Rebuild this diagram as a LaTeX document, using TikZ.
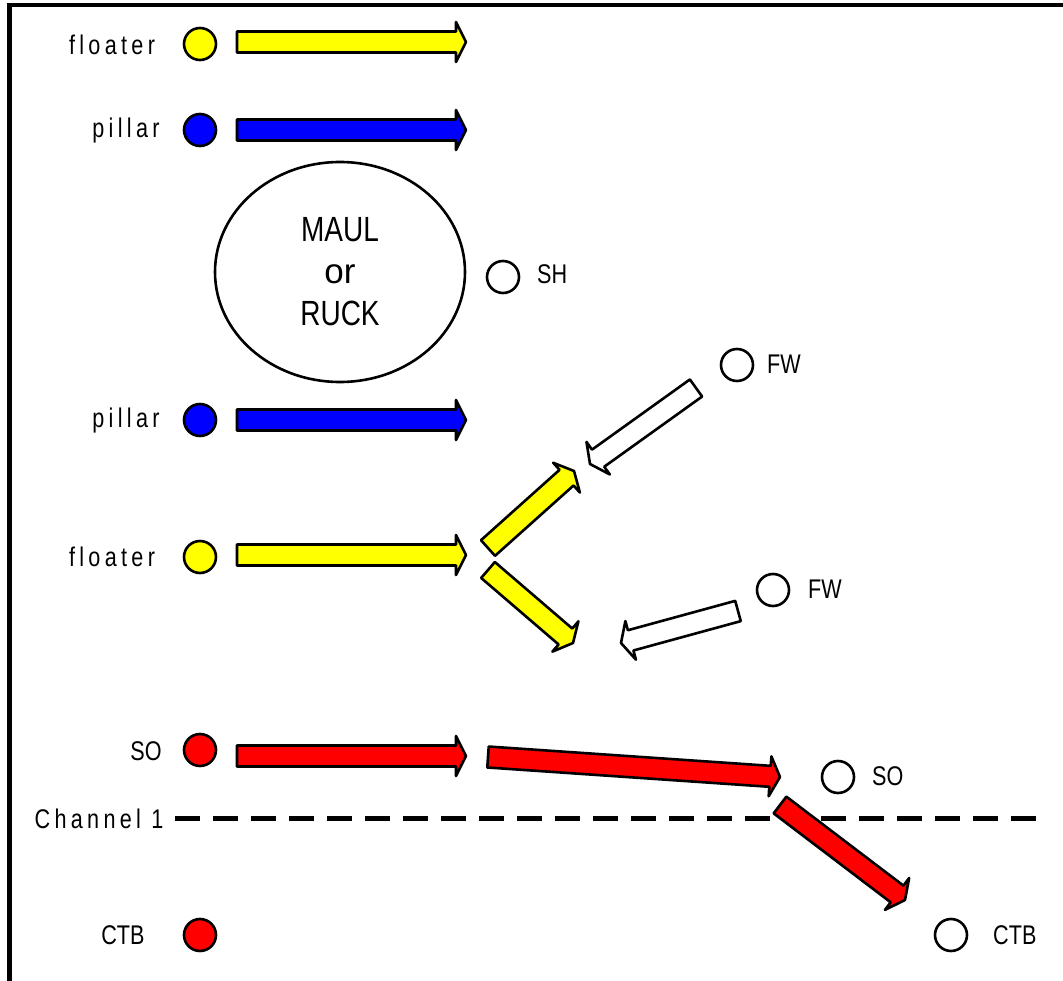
\documentclass[tikz,border=0pt]{standalone}
\usepackage{fontspec}
\setmainfont{Liberation Sans}[FakeStretch=0.8]
\newfontfamily\spacedfont{Liberation Sans}[FakeStretch=0.8,LetterSpace=16]
\newfontfamily\widefont{Liberation Sans}
\usetikzlibrary{calc,shapes.geometric}
\definecolor{pyellow}{RGB}{255,255,0}
\definecolor{pblue}{RGB}{0,0,255}
\definecolor{pred}{RGB}{255,0,0}
\newcommand{\blockarrow}[3]{%
  \coordinate (ba-t) at (#2);
  \coordinate (ba-h) at (#3);
  \coordinate (ba-b) at ($(ba-h)!10pt!(ba-t)$);
  \filldraw[barrowstyle,#1] ($(ba-t)!10.5pt!90:(ba-h)$) -- ($(ba-b)!10.5pt!90:(ba-h)$) -- ($(ba-b)!20pt!90:(ba-h)$) -- (ba-h) -- ($(ba-b)!20pt!-90:(ba-h)$) -- ($(ba-b)!10.5pt!-90:(ba-h)$) -- ($(ba-t)!10.5pt!-90:(ba-h)$) -- cycle;
}
\begin{document}
\begin{tikzpicture}[x=1pt,y=-1pt,
  barrowstyle/.style={draw=black,line width=2.6pt,line join=round},
  player/.style={circle,draw=black,line width=2.6pt,minimum size=32pt,inner sep=0pt},
  lbl/.style={font=\fontsize{27}{30}\selectfont,inner sep=0pt,anchor=base},
  slbl/.style={font=\fontsize{27}{30}\selectfont\spacedfont,inner sep=0pt,anchor=base},
  rlbl/.style={font=\fontsize{27}{30}\selectfont,inner sep=0pt,anchor=base west},
  frame/.style={line width=4.5pt}]
\useasboundingbox (0,0) rectangle (1063,981);
\fill[white] (0,0) rectangle (1063,981);
% frame
\coordinate (fr1) at (1063,5);
\coordinate (fr2) at (9.5,5);
\coordinate (fr3) at (9.5,981);
\draw[frame] (fr1) -- (fr2) -- (fr3);

% left players
\node[player,fill=pyellow] (floaterA) at (200,44) {};
\node[slbl] (floaterAl) at (112,55) {floater};
\node[player,fill=pblue] (pillarA) at (200,130) {};
\node[slbl] (pillarAl) at (126,138) {pillar};
\node[player,fill=pblue] (pillarB) at (200,420) {};
\node[slbl] (pillarBl) at (126,428) {pillar};
\node[player,fill=pyellow] (floaterB) at (200,557) {};
\node[slbl] (floaterBl) at (112,566) {floater};
\node[player,fill=pred] (soA) at (200,750) {};
\node[lbl] (soAl) at (146,760) {SO};
\node[player,fill=pred] (ctbA) at (200,935) {};
\node[lbl] (ctbAl) at (123,944) {CTB};

% maul
\node[ellipse,draw=black,line width=2.6pt,minimum width=250pt,minimum height=220pt,
  align=center,font=\fontsize{35}{42}\selectfont] (maul) at (340,272) {MAUL\\{\widefont or}\\RUCK};

% right players
\node[player,fill=white] (sh) at (503,277) {};
\node[rlbl] (shl) at (537,284) {SH};
\node[player,fill=white] (fwA) at (737,365) {};
\node[rlbl] (fwAl) at (767,374) {FW};
\node[player,fill=white] (fwB) at (773,590) {};
\node[rlbl] (fwBl) at (808,598) {FW};
\node[player,fill=white] (soB) at (838,777) {};
\node[rlbl] (soBl) at (872,785) {SO};
\node[player,fill=white] (ctbB) at (951,935) {};
\node[rlbl] (ctbBl) at (993,944) {CTB};

% channel line
\node[slbl] (chan) at (99,828) {Channel 1};
\coordinate (chL) at (175,818);
\coordinate (chR) at (1040,818);
\draw[line width=5pt,dash pattern=on 25pt off 13pt] (chL) -- (chR);

% arrow coordinates
\coordinate (a1s) at (237,42);  \coordinate (a1e) at (466,42);
\coordinate (a2s) at (237,130); \coordinate (a2e) at (466,130);
\coordinate (a3s) at (237,420); \coordinate (a3e) at (466,420);
\coordinate (a4s) at (237,555); \coordinate (a4e) at (466,555);
\coordinate (a5s) at (237,756); \coordinate (a5e) at (466,756);
\coordinate (a6s) at (488,548); \coordinate (a6e) at (574,471);
\coordinate (a7s) at (488,570); \coordinate (a7e) at (573,643);
\coordinate (a8s) at (696,388); \coordinate (a8e) at (590,464);
\coordinate (a9s) at (738,611); \coordinate (a9e) at (621,643);
\coordinate (a10s) at (488,757); \coordinate (a10e) at (780,777);
\coordinate (a11s) at (780,805); \coordinate (a11e) at (905,900);

\blockarrow{fill=pyellow}{a1s}{a1e}
\blockarrow{fill=pblue}{a2s}{a2e}
\blockarrow{fill=pblue}{a3s}{a3e}
\blockarrow{fill=pyellow}{a4s}{a4e}
\blockarrow{fill=pred}{a5s}{a5e}
\blockarrow{fill=pyellow}{a6s}{a6e}
\blockarrow{fill=pyellow}{a7s}{a7e}
\blockarrow{fill=white}{a8s}{a8e}
\blockarrow{fill=white}{a9s}{a9e}
\blockarrow{fill=pred}{a10s}{a10e}
\blockarrow{fill=pred}{a11s}{a11e}
\end{tikzpicture}
\end{document}
